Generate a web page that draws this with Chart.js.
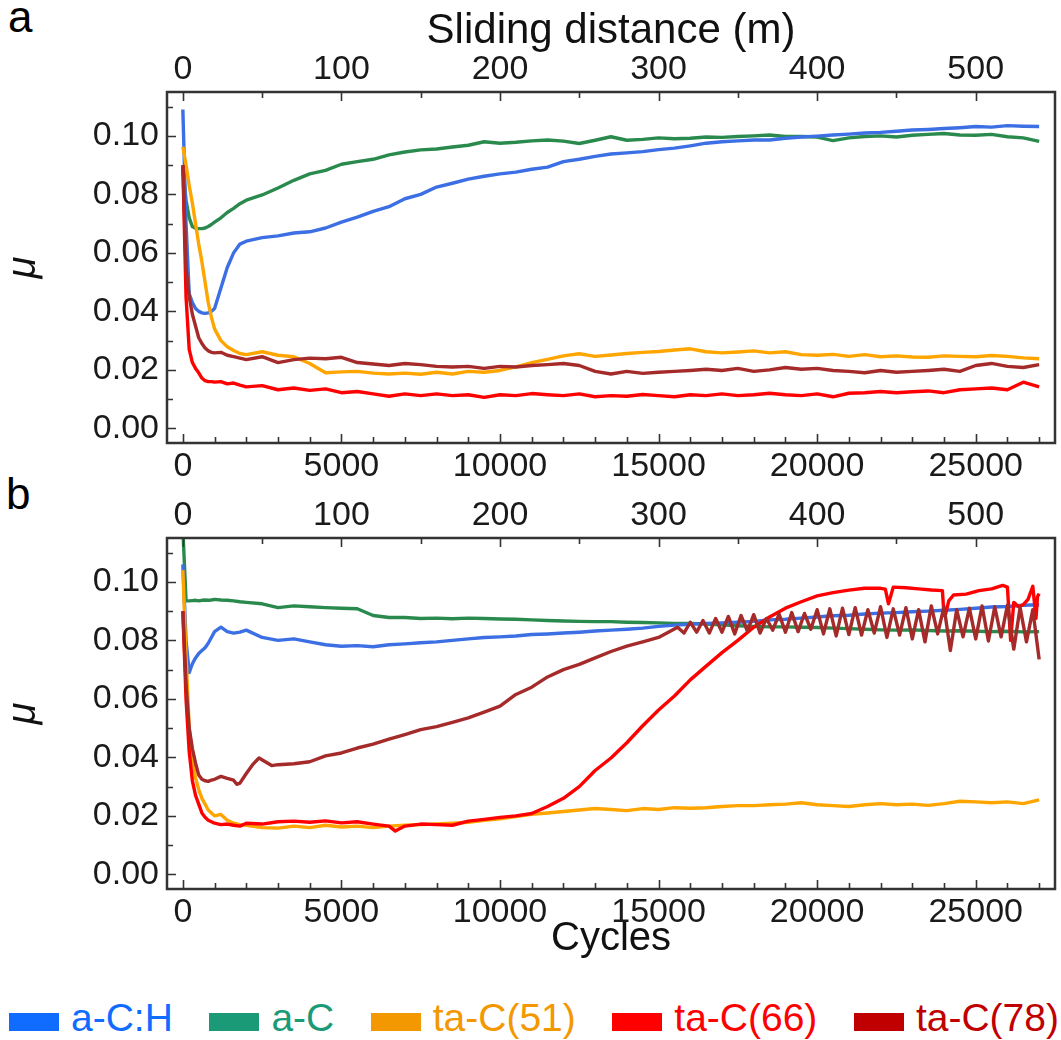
<!DOCTYPE html>
<html>
<head>
<meta charset="utf-8">
<script src="https://cdn.jsdelivr.net/npm/chart.js@4.4.1/dist/chart.umd.min.js"></script>
<style>
  html, body { margin: 0; padding: 0; background: #fff; }
  body { width: 1061px; height: 1040px; position: relative; overflow: hidden;
         font-family: "Liberation Sans", Arial, sans-serif; }
  canvas { position: absolute; left: 0; }
  #cA { top: 0; }
  #cB { top: 488px; }
  .panel { position: absolute; font-size: 44px; line-height: 44px; color: #000; }
  #legend { position: absolute; left: 9px; width: 1050px; top: 998px; height: 40px;
            display: flex; justify-content: space-between; align-items: flex-start; }
  .item { display: flex; align-items: flex-start; font-size: 39px; line-height: 40px; white-space: nowrap; }
  .box { width: 50px; height: 18px; margin-top: 15px; margin-right: 12px; }
</style>
</head>
<body>
<div class="panel" style="left:8px;top:-5px;">a</div>
<div class="panel" style="left:6px;top:472px;">b</div>
<canvas id="cA" width="1061" height="488"></canvas>
<canvas id="cB" width="1061" height="482"></canvas>
<div id="legend"></div>
<script>
// ---------------- data ----------------
const SERIES = ['a-C:H', 'a-C', 'ta-C(51)', 'ta-C(66)', 'ta-C(78)'];
const LINE_COLORS = ['#3b6fe3', '#2a8a4e', '#ffa500', '#ff0000', '#a52a2a'];
const LEGEND_COLORS = ['#0f6cff', '#1b9a78', '#f39800', '#ff0000', '#c00000'];

const CYCLES = [0,100,200,300,400,500,600,700,800,900,1000,1200,1400,1600,1800,2000,
  2500,3000,3500,4000,4500,5000,5500,6000,6500,7000,7500,8000,8500,9000,9500,10000,
  10500,11000,11500,12000,12500,13000,13500,14000,14500,15000,15500,16000,16500,17000,
  17500,18000,18500,19000,19500,20000,20500,21000,21500,22000,22500,23000,23500,24000,
  24500,25000,25500,26000,26500,27000];

// panel a
const A_ACH = [0.109,0.070,0.046,0.043,0.041,0.040,0.0395,0.0393,0.0395,0.040,0.041,0.048,0.055,0.060,0.063,0.064,
  0.0652,0.0658,0.0668,0.0672,0.0685,0.0705,0.0722,0.0742,0.0758,0.0785,0.0800,0.0825,0.0838,0.0852,0.0862,0.0870,
  0.0876,0.0886,0.0893,0.0912,0.0920,0.0930,0.0938,0.0942,0.0946,0.0953,0.0958,0.0966,0.0975,0.0980,
  0.0983,0.0986,0.0986,0.0992,0.0996,0.0999,0.1003,0.1006,0.1010,0.1012,0.1016,0.1020,0.1022,0.1025,
  0.1028,0.1032,0.1030,0.1035,0.1033,0.1032];
const A_AC = [0.089,0.078,0.072,0.069,0.0684,0.0683,0.0683,0.0685,0.069,0.0697,0.0705,0.072,0.0738,0.0752,0.0768,0.078,
  0.0798,0.0822,0.0848,0.0870,0.0882,0.0903,0.0912,0.0920,0.0935,0.0945,0.0952,0.0955,0.0962,0.0968,0.0980,0.0975,
  0.0978,0.0983,0.0986,0.0982,0.0974,0.0985,0.0997,0.0985,0.0988,0.0993,0.0990,0.0992,0.0996,0.0995,
  0.0998,0.1000,0.1003,0.0998,0.0998,0.0996,0.0984,0.0993,0.0998,0.1000,0.0996,0.1002,0.1005,0.1008,
  0.1003,0.1002,0.1005,0.0997,0.0993,0.0981];
const A_TAC51 = [0.0963,0.090,0.083,0.077,0.070,0.063,0.057,0.050,0.043,0.038,0.034,0.030,0.0279,0.0266,0.0256,0.0252,
  0.0262,0.0250,0.0245,0.0222,0.0190,0.0193,0.0195,0.0189,0.0186,0.0189,0.0185,0.0192,0.0186,0.0195,0.0192,0.0198,
  0.0210,0.0225,0.0236,0.0248,0.0255,0.0246,0.0251,0.0256,0.0260,0.0263,0.0268,0.0272,0.0262,0.0258,
  0.0261,0.0265,0.0258,0.0262,0.0252,0.0250,0.0253,0.0246,0.0252,0.0245,0.0248,0.0244,0.0243,0.0248,
  0.0246,0.0245,0.0249,0.0246,0.0241,0.0238];
const A_TAC66 = [0.090,0.045,0.027,0.0225,0.0205,0.019,0.0172,0.0163,0.016,0.016,0.0158,0.016,0.0152,0.0155,0.0148,0.0142,
  0.0146,0.0132,0.0138,0.0130,0.0135,0.0122,0.0126,0.0118,0.0110,0.0118,0.0112,0.0118,0.0112,0.0115,0.0106,0.0115,
  0.0112,0.0119,0.0115,0.0112,0.0118,0.0108,0.0112,0.0110,0.0116,0.0112,0.0108,0.0115,0.0112,0.0118,
  0.0112,0.0115,0.0120,0.0115,0.0112,0.0118,0.0108,0.0120,0.0122,0.0126,0.0122,0.0125,0.0128,0.0122,
  0.0132,0.0135,0.0138,0.0132,0.0158,0.0142];
const A_TAC78 = [0.090,0.055,0.045,0.039,0.035,0.031,0.029,0.0275,0.0265,0.026,0.0258,0.026,0.025,0.0245,0.024,0.0235,
  0.0245,0.0225,0.0235,0.0240,0.0238,0.0243,0.0225,0.0220,0.0215,0.0222,0.0218,0.0212,0.0210,0.0212,0.0205,0.0212,
  0.0210,0.0215,0.0218,0.0222,0.0215,0.0195,0.0186,0.0195,0.0188,0.0192,0.0195,0.0198,0.0202,0.0198,
  0.0205,0.0195,0.0200,0.0208,0.0202,0.0205,0.0198,0.0195,0.0190,0.0198,0.0192,0.0195,0.0198,0.0202,
  0.0195,0.0215,0.0222,0.0212,0.0208,0.0218];

// panel b
const B_ACH = [0.106,0.080,0.069,0.072,0.074,0.0755,0.0765,0.0775,0.079,0.081,0.083,0.0845,0.083,0.0825,0.0828,0.0835,
  0.0810,0.0800,0.0805,0.0795,0.0785,0.0780,0.0782,0.0778,0.0785,0.0788,0.0792,0.0795,0.0800,0.0805,0.0810,0.0812,
  0.0815,0.0820,0.0822,0.0825,0.0828,0.0832,0.0835,0.0838,0.0842,0.0848,0.0852,0.0855,0.0858,0.0860,
  0.0862,0.0865,0.0870,0.0872,0.0876,0.0880,0.0884,0.0886,0.0890,0.0893,0.0895,0.0898,0.0900,0.0903,
  0.0906,0.0910,0.0914,0.0916,0.0920,0.0922];
const B_AC = [0.118,0.0935,0.0935,0.0936,0.0937,0.0935,0.0937,0.0938,0.0937,0.0938,0.0940,0.0938,0.0937,0.0935,0.0932,0.0930,
  0.0925,0.0912,0.0918,0.0915,0.0912,0.0910,0.0908,0.0885,0.0878,0.0878,0.0875,0.0876,0.0874,0.0876,0.0875,0.0873,
  0.0872,0.0870,0.0868,0.0866,0.0865,0.0864,0.0864,0.0862,0.0861,0.0860,0.0858,0.0858,0.0856,0.0853,
  0.0850,0.0848,0.0846,0.0846,0.0845,0.0844,0.0842,0.0840,0.0838,0.0836,0.0835,0.0836,0.0834,0.0832,
  0.0833,0.0831,0.0830,0.0831,0.0829,0.0830];
const B_TAC51 = [0.104,0.075,0.050,0.040,0.033,0.029,0.026,0.024,0.022,0.021,0.020,0.0205,0.0185,0.0175,0.017,0.0168,
  0.0160,0.0158,0.0165,0.0160,0.0168,0.0162,0.0165,0.0160,0.0165,0.0168,0.0170,0.0172,0.0175,0.0178,0.0185,0.0190,
  0.0198,0.0205,0.0210,0.0215,0.0220,0.0225,0.0222,0.0218,0.0225,0.0222,0.0228,0.0226,0.0228,0.0232,
  0.0235,0.0235,0.0238,0.0240,0.0245,0.0238,0.0235,0.0232,0.0238,0.0242,0.0238,0.0240,0.0236,0.0242,
  0.0250,0.0248,0.0245,0.0248,0.0242,0.0255];

const CYCLES_B66 = [0,100,200,300,400,500,600,700,800,900,1000,1200,1400,1600,1800,2000,
  2500,3000,3500,4000,4500,5000,5500,6000,6500,6700,7000,7500,8000,8500,9000,9500,10000,
  10500,11000,11500,12000,12500,13000,13500,14000,14500,15000,15500,16000,16500,17000,17500,
  18000,18500,19000,19500,20000,20500,21000,21500,22000,22150,22250,22400,22800,23200,23600,
  23950,24000,24050,24150,24300,24700,25100,25500,25850,26000,26100,26200,26350,26500,26650,
  26800,26900,26950,27000];
const B_TAC66 = [0.090,0.060,0.042,0.032,0.027,0.024,0.021,0.0195,0.0185,0.018,0.0175,0.017,0.0172,0.0168,0.0165,0.0175,
  0.0172,0.0180,0.0182,0.0178,0.0183,0.0176,0.0180,0.0172,0.0165,0.0148,0.0165,0.0172,0.0170,0.0168,0.0182,0.0188,0.0195,
  0.0200,0.0208,0.0232,0.0260,0.0300,0.0355,0.0398,0.0450,0.0508,0.0562,0.0610,0.0665,0.0712,0.0758,0.0800,
  0.0845,0.0880,0.0910,0.0932,0.0952,0.0963,0.0972,0.0978,0.0978,0.0975,0.0925,0.0982,0.0980,0.0976,0.0972,
  0.0970,0.0885,0.0890,0.0935,0.0955,0.0958,0.0970,0.0976,0.0988,0.0982,0.0800,0.0930,0.0915,0.0922,0.0940,
  0.0985,0.0875,0.0950,0.0960];

const CYCLES_B78 = [0,100,200,300,400,500,600,700,800,900,1000,1200,1400,1600,1700,1800,2000,2200,2400,2600,2800,3000,
  3500,4000,4500,5000,5500,6000,6500,7000,7500,8000,8500,9000,9500,10000,10500,11000,11500,12000,12500,13000,
  13500,14000,14500,15000,
  15600,15800,16000,16200,16400,16600,16800,17000,17200,17400,17600,17800,18000,18200,18400,18600,18800,19000,
  19200,19400,19600,19800,20000,20200,20400,20600,20800,21000,21200,21400,21600,21800,22000,22200,22400,22600,
  22800,23000,23200,23400,23600,23800,24000,24200,24400,24600,24800,25000,25200,25400,25600,25800,26000,26200,
  26400,26600,26800,27000];
const B_TAC78 = [0.090,0.065,0.050,0.043,0.038,0.034,0.0325,0.032,0.0318,0.0322,0.0325,0.0335,0.0328,0.0322,0.0308,0.0312,
  0.0345,0.0375,0.0398,0.0385,0.0372,0.0375,
  0.0378,0.0385,0.0405,0.0415,0.0432,0.0445,0.0462,0.0478,0.0495,0.0505,0.0520,0.0535,0.0555,0.0575,0.0615,0.0640,
  0.0675,0.0700,0.0718,0.0740,0.0762,0.0780,0.0795,0.0810,
  0.0845,0.0825,0.0862,0.0828,0.0868,0.0825,0.0875,0.0828,0.0882,0.0822,0.0885,0.0832,0.0888,0.0825,0.0875,0.0835,
  0.0890,0.0828,0.0895,0.0830,0.0892,0.0838,0.0905,0.0822,0.0908,0.0815,0.0910,0.0820,0.0912,0.0818,0.0905,0.0825,
  0.0915,0.0810,0.0908,0.0818,0.0912,0.0805,0.0905,0.0795,0.0918,0.0822,0.0915,0.0765,0.0905,0.0812,0.0910,0.0805,
  0.0918,0.0798,0.0915,0.0812,0.0920,0.0770,0.0912,0.0795,0.0905,0.0735];

// axes / ticks
const CYCLES_PER_METRE = 50;
const CYCLE_MIN = -500, CYCLE_MAX = 27500;
const MU_MIN = -0.005, MU_MAX = 0.115;
const CYCLE_TICKS = [0,5000,10000,15000,20000,25000];
const CYCLE_MINOR = [0,1000,2000,3000,4000,5000,6000,7000,8000,9000,10000,11000,12000,13000,14000,
  15000,16000,17000,18000,19000,20000,21000,22000,23000,24000,25000,26000,27000];
const DIST_TICKS = [0,100,200,300,400,500];
const DIST_MINOR = [0,50,100,150,200,250,300,350,400,450,500];
const MU_TICKS = [0,0.02,0.04,0.06,0.08,0.10];
const MU_MINOR = [0,0.01,0.02,0.03,0.04,0.05,0.06,0.07,0.08,0.09,0.10,0.11];

// ---------------- drawing ----------------
Chart.defaults.font.family = '"Liberation Sans", Arial, sans-serif';
Chart.defaults.color = '#1a1a1a';

const pts = (xs, ys) => xs.map((x, i) => ({ x: x, y: ys[i] }));
const DRAW_ORDER = [3, 4, 2, 1, 0]; // lower draws on top

function ds(idx, xs, ys) {
  return {
    label: SERIES[idx], data: pts(xs, ys),
    borderColor: LINE_COLORS[idx], backgroundColor: LINE_COLORS[idx],
    borderWidth: 3.4, pointRadius: 0, tension: 0, fill: false,
    order: DRAW_ORDER[idx], borderJoinStyle: 'round'
  };
}

const frameTicks = {
  id: 'frameTicks',
  afterDraw(chart) {
    const ctx = chart.ctx;
    const a = chart.chartArea;
    const sx = chart.scales['x'], sx2 = chart.scales['x2'], sy = chart.scales['y'];
    ctx.save();
    ctx.strokeStyle = '#333333';
    ctx.lineWidth = 2.5;
    ctx.beginPath();
    ctx.rect(a.left, a.top, a.right - a.left, a.bottom - a.top);
    ctx.stroke();
    ctx.lineWidth = 1.6;
    ctx.beginPath();
    MU_MINOR.forEach(v => {
      const y = Math.round(sy.getPixelForValue(v)) + 0.5;
      const len = MU_TICKS.some(t => Math.abs(t - v) < 1e-9) ? 9 : 6;
      ctx.moveTo(a.left, y); ctx.lineTo(a.left + len, y);
    });
    CYCLE_MINOR.forEach(v => {
      const x = Math.round(sx.getPixelForValue(v)) + 0.5;
      const len = CYCLE_TICKS.indexOf(v) >= 0 ? 9 : 6;
      ctx.moveTo(x, a.bottom); ctx.lineTo(x, a.bottom - len);
    });
    DIST_MINOR.forEach(v => {
      const x = Math.round(sx2.getPixelForValue(v)) + 0.5;
      const len = DIST_TICKS.indexOf(v) >= 0 ? 9 : 6;
      ctx.moveTo(x, a.top); ctx.lineTo(x, a.top + len);
    });
    ctx.stroke();
    ctx.restore();
  }
};

function makeScales(isA) {
  return {
    x: {
      type: 'linear', position: 'bottom', min: CYCLE_MIN, max: CYCLE_MAX,
      grid: { display: false, drawTicks: false }, border: { display: false },
      ticks: { font: { size: 34 }, color: '#1a1a1a', padding: 3, maxRotation: 0, autoSkip: false,
               callback: v => String(v) },
      afterBuildTicks: s => { s.ticks = CYCLE_TICKS.map(v => ({ value: v })); },
      afterFit: s => { s.height = isA ? 45 : 81; },
      title: { display: !isA, text: 'Cycles', font: { size: 40 }, color: '#111',
               padding: { top: 0, bottom: 7 } }
    },
    x2: {
      type: 'linear', position: 'top',
      min: CYCLE_MIN / CYCLES_PER_METRE, max: CYCLE_MAX / CYCLES_PER_METRE,
      grid: { display: false, drawTicks: false }, border: { display: false },
      ticks: { font: { size: 34 }, color: '#1a1a1a', padding: 2, maxRotation: 0, autoSkip: false,
               callback: v => String(v) },
      afterBuildTicks: s => { s.ticks = DIST_TICKS.map(v => ({ value: v })); },
      afterFit: s => { s.height = isA ? 92 : 50; },
      title: { display: isA, text: 'Sliding distance (m)', font: { size: 42 }, color: '#111',
               padding: { top: 6, bottom: 0 } }
    },
    y: {
      type: 'linear', position: 'left', min: MU_MIN, max: MU_MAX,
      grid: { display: false, drawTicks: false }, border: { display: false },
      ticks: { font: { size: 34 }, color: '#1a1a1a', padding: 8, autoSkip: false,
               callback: v => Number(v).toFixed(2) },
      afterBuildTicks: s => { s.ticks = MU_TICKS.map(v => ({ value: v })); },
      afterFit: s => { s.width = 167; },
      title: { display: true, text: 'μ', font: { size: 40, style: 'italic' }, color: '#111',
               padding: { top: 0, bottom: 0 } }
    }
  };
}

function makeChart(id, datasets, isA) {
  return new Chart(document.getElementById(id), {
    type: 'line',
    data: { datasets: datasets },
    options: {
      responsive: false, animation: false, devicePixelRatio: 1,
      layout: { padding: { left: 0, right: 6, top: 0, bottom: 0 } },
      plugins: { legend: { display: false }, tooltip: { enabled: false } },
      scales: makeScales(isA)
    },
    plugins: [frameTicks]
  });
}

makeChart('cA', [
  ds(0, CYCLES, A_ACH), ds(1, CYCLES, A_AC), ds(2, CYCLES, A_TAC51),
  ds(3, CYCLES, A_TAC66), ds(4, CYCLES, A_TAC78)
], true);

makeChart('cB', [
  ds(0, CYCLES, B_ACH), ds(1, CYCLES, B_AC), ds(2, CYCLES, B_TAC51),
  ds(3, CYCLES_B66, B_TAC66), ds(4, CYCLES_B78, B_TAC78)
], false);

// legend
const legend = document.getElementById('legend');
SERIES.forEach((name, i) => {
  const item = document.createElement('div');
  item.className = 'item';
  item.style.color = LEGEND_COLORS[i];
  const box = document.createElement('span');
  box.className = 'box';
  box.style.background = LEGEND_COLORS[i];
  const txt = document.createElement('span');
  txt.textContent = name;
  item.appendChild(box); item.appendChild(txt);
  legend.appendChild(item);
});
</script>
</body>
</html>
